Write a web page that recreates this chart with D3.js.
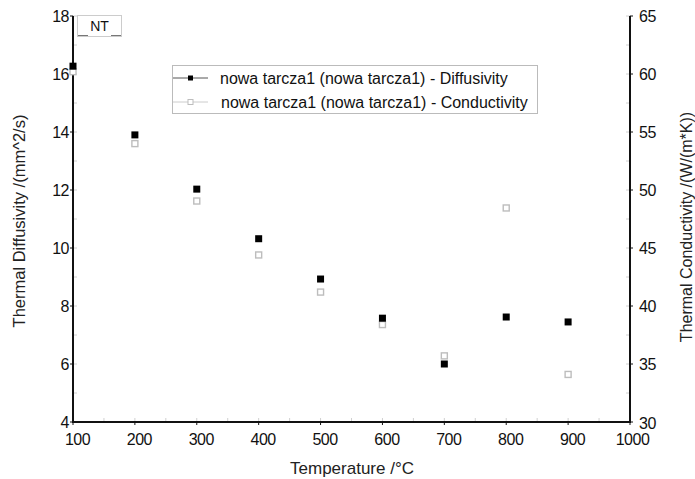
<!DOCTYPE html>
<html>
<head>
<meta charset="utf-8">
<script src="https://cdn.jsdelivr.net/npm/d3@7"></script>
<style>
  body { margin: 0; background: #fff; }
  svg { display: block; font-family: "Liberation Sans", Arial, sans-serif; }
</style>
</head>
<body>
<svg id="chart" width="695" height="479"></svg>
<script>
(function () {
    'use strict';

    // temperatures in °C
    const temperatures = [100, 200, 300, 400, 500, 600, 700, 800, 900];
    // thermal diffusivity mm^2/s (left axis)
    const diffusivity = [16.27, 13.9, 12.03, 10.32, 8.93, 7.58, 6.0, 7.62, 7.45];
    // thermal conductivity W/(m*K) (right axis)
    const conductivity = [60.2, 54.0, 49.05, 44.4, 41.2, 38.4, 35.7, 48.45, 34.1];

    const xTicks = [100, 200, 300, 400, 500, 600, 700, 800, 900, 1000];
    const yLeftTicks = [4, 6, 8, 10, 12, 14, 16, 18];
    const yRightTicks = [30, 35, 40, 45, 50, 55, 60, 65];
    const legendLabels = [
        "nowa tarcza1 (nowa tarcza1) - Diffusivity",
        "nowa tarcza1 (nowa tarcza1) - Conductivity"
    ];

    const plot = { left: 73, right: 630, top: 16, bottom: 422 };

    const x = d3.scaleLinear().domain([100, 1000]).range([plot.left, plot.right]);
    const yLeft = d3.scaleLinear().domain([4, 18]).range([plot.bottom, plot.top]);
    const yRight = d3.scaleLinear().domain([30, 65]).range([plot.bottom, plot.top]);

    const svg = d3.select('#chart');

    // minor ticks (faint, inside)
    const minor = svg.append("g").attr("stroke", "#d0d0d0").attr("stroke-width", 1);
    d3.range(100, 1001, 50).forEach(v => {
        minor.append("line").attr("x1", x(v)).attr("x2", x(v))
            .attr("y1", plot.bottom).attr("y2", plot.bottom - 4);
    });
    d3.range(4, 18.01, 1).forEach(v => {
        minor.append("line").attr("x1", plot.left).attr("x2", plot.left + 4)
            .attr("y1", yLeft(v)).attr("y2", yLeft(v));
    });
    d3.range(30, 65.01, 2.5).forEach(v => {
        minor.append("line").attr("x1", plot.right).attr("x2", plot.right - 4)
            .attr("y1", yRight(v)).attr("y2", yRight(v));
    });

    // axes lines
    const frame = svg.append("g").attr("stroke", "#111").attr("stroke-width", 2).attr("fill", "none");
    frame.append("path")
        .attr("d", `M${plot.left},${plot.top}V${plot.bottom}H${plot.right}V${plot.top}`);

    // major ticks
    const ticks = svg.append("g").attr("stroke", "#111").attr("stroke-width", 1);
    xTicks.forEach(v => ticks.append("line").attr("x1", x(v)).attr("x2", x(v))
        .attr("y1", plot.bottom).attr("y2", plot.bottom + 3));
    yLeftTicks.forEach(v => ticks.append("line").attr("x1", plot.left - 3).attr("x2", plot.left)
        .attr("y1", yLeft(v)).attr("y2", yLeft(v)));
    yRightTicks.forEach(v => ticks.append("line").attr("x1", plot.right).attr("x2", plot.right + 3)
        .attr("y1", yRight(v)).attr("y2", yRight(v)));

    // tick labels
    const labels = svg.append("g").attr("fill", "#111").style("font-size", "16px");
    labels.selectAll(".xl").data(xTicks).join("text")
        .attr("x", d => d === 1000 ? x(d) + 2.5 : x(d) + 4.5)
        .attr("y", 445)
        .attr("text-anchor", "middle")
        .attr("letter-spacing", "-0.5")
        .text(d => d);
    labels.selectAll(".yl").data(yLeftTicks).join("text")
        .attr("x", plot.left - 4)
        .attr("y", d => yLeft(d) + 6)
        .attr("text-anchor", "end")
        .attr("letter-spacing", "-0.5")
        .text(d => d);
    labels.selectAll(".yr").data(yRightTicks).join("text")
        .attr("x", plot.right + 9)
        .attr("y", d => yRight(d) + (d === 30 ? 7 : 6))
        .attr("letter-spacing", "-0.5")
        .text(d => d);

    // axis titles
    const titles = svg.append("g").attr("fill", "#222");
    titles.append("text")
        .attr("x", 352).attr("y", 474)
        .attr("text-anchor", "middle")
        .style("font-size", "17px")
        .text("Temperature /°C");
    titles.append("text")
        .attr("transform", "translate(25,221) rotate(-90)")
        .attr("text-anchor", "middle")
        .style("font-size", "16.5px")
        .text("Thermal Diffusivity /(mm^2/s)");
    titles.append("text")
        .attr("transform", "translate(692,227) rotate(-90)")
        .attr("text-anchor", "middle")
        .style("font-size", "16px")
        .text("Thermal Conductivity /(W/(m*K))");

    // NT box
    const nt = svg.append("g");
    nt.append("rect").attr("x", 77.5).attr("y", 15.5).attr("width", 44).attr("height", 21)
        .attr("fill", "#fff").attr("stroke", "#ccc");
    nt.append("text").attr("x", 99.5).attr("y", 31).attr("text-anchor", "middle")
        .style("font-size", "14px").attr("fill", "#111").text("NT");
    nt.append("line").attr("x1", 78).attr("x2", 88).attr("y1", 35.5).attr("y2", 35.5).attr("stroke", "#777");
    nt.append("line").attr("x1", 111).attr("x2", 121).attr("y1", 35.5).attr("y2", 35.5).attr("stroke", "#777");

    // data markers
    const pts = temperatures.map((t, i) => ({ t, d: diffusivity[i], c: conductivity[i] }));
    svg.append("g").selectAll("rect").data(pts).join("rect")
        .attr("x", p => x(p.t) - 3).attr("y", p => yRight(p.c) - 3)
        .attr("width", 6).attr("height", 6)
        .attr("fill", "#fff").attr("stroke", "#bdbdbd").attr("stroke-width", 1.4);
    svg.append("g").selectAll("rect").data(pts).join("rect")
        .attr("x", p => x(p.t) - 3.5).attr("y", p => yLeft(p.d) - 3.5)
        .attr("width", 7).attr("height", 7)
        .attr("fill", "#000");

    // legend
    const legend = svg.append("g");
    legend.append("rect").attr("x", 172.5).attr("y", 65.5).attr("width", 365).attr("height", 48)
        .attr("fill", "#fff").attr("stroke", "#bbb");
    legendLabels.forEach((lbl, i) => {
        const cy = 78 + i * 24;
        legend.append("line").attr("x1", 173).attr("x2", 208).attr("y1", cy).attr("y2", cy)
            .attr("stroke", i === 0 ? "#555" : "#ccc");
        if (i === 0) {
            legend.append("rect").attr("x", 188).attr("y", cy - 2.5).attr("width", 5).attr("height", 5)
                .attr("fill", "#000");
        } else {
            legend.append("rect").attr("x", 188).attr("y", cy - 2.5).attr("width", 5).attr("height", 5)
                .attr("fill", "#fff").attr("stroke", "#bdbdbd");
        }
        legend.append("text").attr("x", 220 + i).attr("y", cy + 6)
            .style("font-size", "16px").attr("fill", "#111").text(lbl);
    });
}());
</script>
</body>
</html>
